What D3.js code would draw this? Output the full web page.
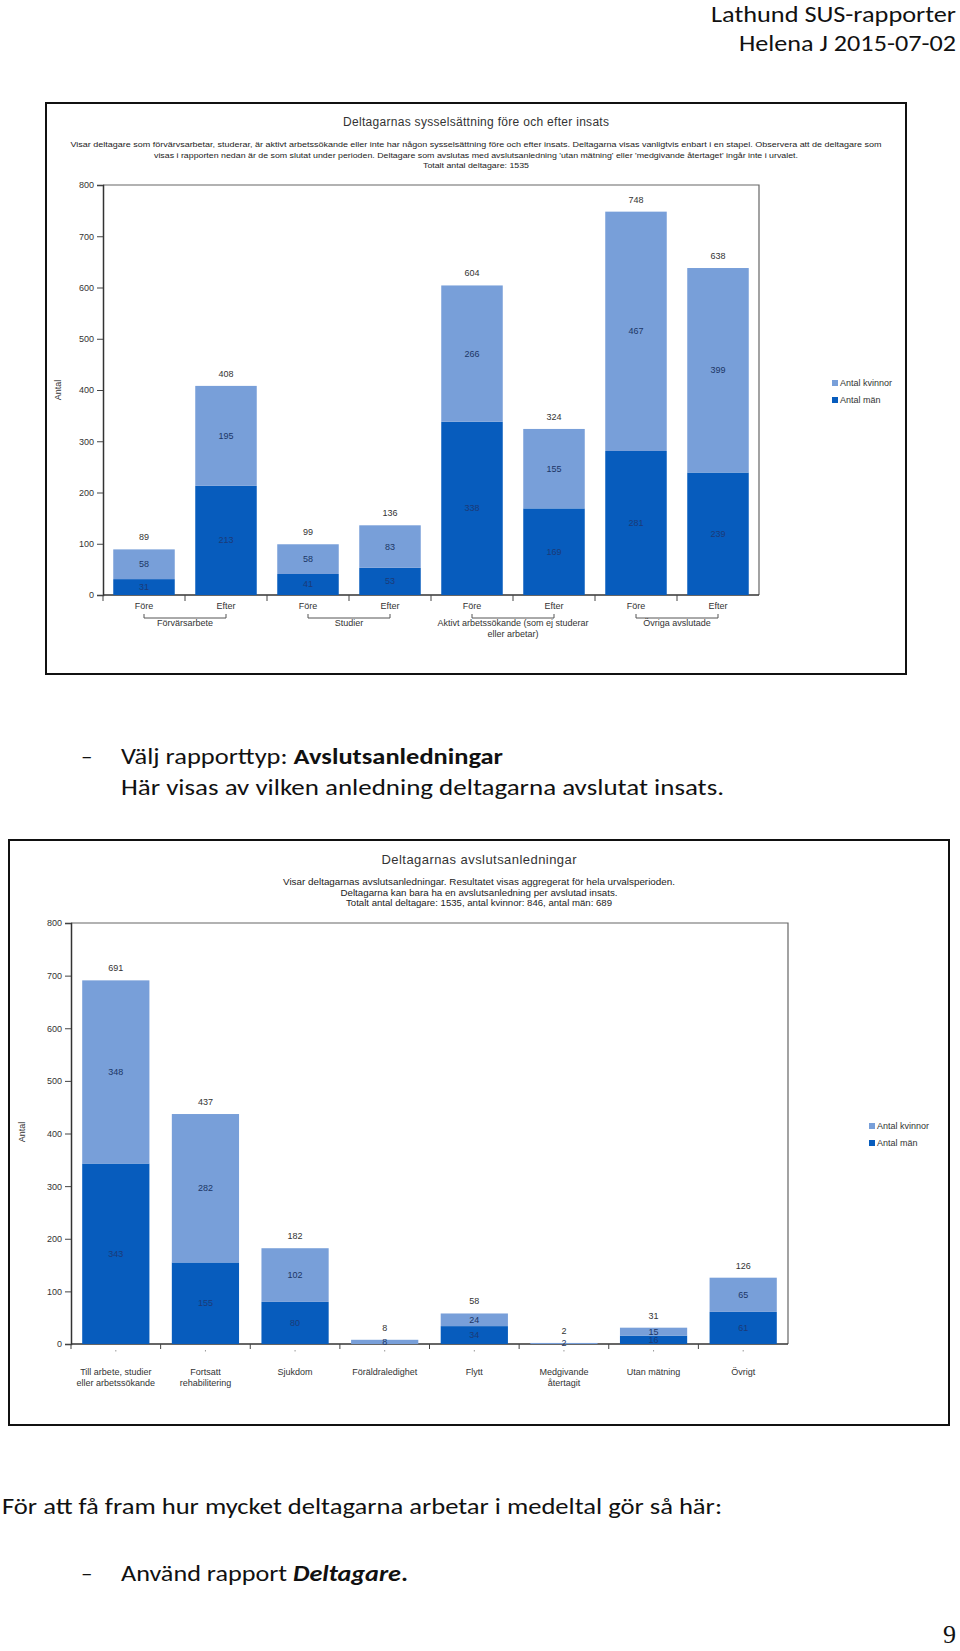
<!DOCTYPE html>
<html><head><meta charset="utf-8">
<script src="https://cdn.jsdelivr.net/npm/d3@7"></script>
<style>body{margin:0;background:#fff}svg{display:block}</style>
</head><body>
<script>
// ---------- data ----------
const categories1 = ["Före","Efter","Före","Efter","Före","Efter","Före","Efter"];
const groups1 = [["Förvärsarbete"],["Studier"],["Aktivt arbetssökande (som ej studerar","eller arbetar)"],["Övriga avslutade"]];
const men1 = [31,213,41,53,338,169,281,239];
const women1 = [58,195,58,83,266,155,467,399];

const categories2 = [["Till arbete, studier","eller arbetssökande"],["Fortsatt","rehabilitering"],["Sjukdom"],["Föräldraledighet"],["Flytt"],["Medgivande","återtagit"],["Utan mätning"],["Övrigt"]];
const men2 = [343,155,80,0,34,0,16,61];
const women2 = [348,282,102,8,24,2,15,65];

const yTicks = [0,100,200,300,400,500,600,700,800];
const legendLabels = ["Antal kvinnor","Antal män"];

// ---------- styles ----------
const LIGHT = "#789fd9", DARK = "#075cbd";
const CF = "'Liberation Sans', Arial, sans-serif";
const DF = "Carlito, Calibri, Lato, 'Open Sans', sans-serif";

const svg = d3.select("body").append("svg").attr("width",960).attr("height",1651);

function txt(g, x, y, s, o={}) {
  const t = g.append("text").attr("x",x).attr("y",y)
    .attr("font-family", o.ff || CF).attr("font-size", o.fs || 9)
    .attr("fill", o.fill || "#222").attr("text-anchor", o.anchor || "middle");
  if (o.central) t.attr("dominant-baseline","central");
  if (o.len) t.attr("textLength", o.len).attr("lengthAdjust", o.adj || "spacingAndGlyphs");
  if (o.weight) t.attr("font-weight", o.weight);
  if (Array.isArray(s)) {
    s.forEach(p => { const ts = t.append("tspan").text(p.t);
      if (p.w) ts.attr("font-weight", p.w); if (p.i) ts.attr("font-style","italic"); });
  } else t.text(s);
  return t;
}

// ---------- document text ----------
txt(svg, 956, 22, "Lathund SUS-rapporter", {ff:DF, fs:22, anchor:"end", len:245, fill:"#111"});
txt(svg, 956, 51, "Helena J 2015-07-02", {ff:DF, fs:22, anchor:"end", len:217, fill:"#111"});

txt(svg, 81, 764, "–", {ff:DF, fs:23, anchor:"start", fill:"#111"});
txt(svg, 121, 764, [{t:"Välj rapporttyp: "},{t:"Avslutsanledningar", w:"bold"}], {ff:DF, fs:23, anchor:"start", len:382, fill:"#111"});
txt(svg, 121, 795, "Här visas av vilken anledning deltagarna avslutat insats.", {ff:DF, fs:23, anchor:"start", len:603, fill:"#111"});
txt(svg, 2, 1514, "För att få fram hur mycket deltagarna arbetar i medeltal gör så här:", {ff:DF, fs:23, anchor:"start", len:720, fill:"#111"});
txt(svg, 81, 1581, "–", {ff:DF, fs:23, anchor:"start", fill:"#111"});
txt(svg, 121, 1581, [{t:"Använd rapport "},{t:"Deltagare", w:"bold", i:true},{t:".", w:"bold"}], {ff:DF, fs:23, anchor:"start", len:287, fill:"#111"});
txt(svg, 956, 1643, "9", {ff:"'Liberation Serif', 'Times New Roman', serif", fs:26, anchor:"end", fill:"#111"});

// ---------- chart drawing ----------
function drawChart(c) {
  const g = svg.append("g");
  g.append("rect").attr("x",c.frame[0]).attr("y",c.frame[1]).attr("width",c.frame[2]-c.frame[0]).attr("height",c.frame[3]-c.frame[1])
    .attr("fill","#fff").attr("stroke","#111").attr("stroke-width",2);
  txt(g, c.cx, c.titleY, c.title, {fs:c.titleFs, fill:"#333", central:true, len:c.titleLen, adj:"spacing"});
  c.sub.forEach((s,i) => txt(g, c.cx, c.subY[i], s[0], {fs:c.subFs, fill:"#222", central:true, len:s[1]}));

  const [L,R,T,B] = c.plot;
  const n = c.men.length;
  const x = d3.scaleBand().domain(d3.range(n)).range([L,R]).paddingInner(0.25).paddingOuter(0.125);
  const y = d3.scaleLinear().domain([0,800]).range([B,T]);

  // plot border (top / right)
  g.append("path").attr("d",`M${L},${T}H${R}V${B}`).attr("fill","none").attr("stroke","#666").attr("stroke-width",1.2);

  // y axis
  const ya = g.append("g").attr("transform",`translate(${L},0)`)
    .call(d3.axisLeft(y).tickValues(yTicks).tickSize(6).tickPadding(3));
  ya.select(".domain").attr("stroke","#333").attr("stroke-width",1.5);
  ya.selectAll(".tick line").attr("stroke","#444");
  ya.selectAll("text").attr("font-family",CF).attr("font-size",9).attr("fill","#333");

  // x axis baseline + boundary ticks
  g.append("line").attr("x1",L).attr("x2",R).attr("y1",B).attr("y2",B).attr("stroke","#333").attr("stroke-width",1.5);
  d3.range(n).forEach(i => {
    const bx = L + i*x.step();
    g.append("line").attr("x1",bx).attr("x2",bx).attr("y1",B).attr("y2",B+c.tickLen).attr("stroke","#444");
  });
  if (c.centerDots) d3.range(n).forEach(i => {
    const cx = x(i)+x.bandwidth()/2;
    g.append("line").attr("x1",cx).attr("x2",cx).attr("y1",B+6).attr("y2",B+7.5).attr("stroke","#999");
  });

  // Y label
  txt(g, 0, 0, "Antal", {fs:9, fill:"#333", central:true}).attr("transform",`translate(${c.antal[0]},${c.antal[1]}) rotate(-90)`);

  // bars
  d3.range(n).forEach(i => {
    const m = c.men[i], w = c.women[i], tot = m+w;
    const bx = x(i), bw = x.bandwidth(), mid = bx+bw/2;
    if (m>0) g.append("rect").attr("x",bx).attr("width",bw).attr("y",y(m)).attr("height",y(0)-y(m)).attr("fill",DARK);
    if (w>0) g.append("rect").attr("x",bx).attr("width",bw).attr("y",y(m+w)).attr("height",y(m)-y(m+w)).attr("fill",LIGHT);
    txt(g, mid, y(tot)-12, String(tot), {fs:9, fill:"#333", central:true});
    if (m>0) txt(g, mid, y(m/2), String(m), {fs:9, fill:"#1b3a78", central:true});
    if (w>0) txt(g, mid, y(m+w/2), String(w), {fs:9, fill:"#1c3666", central:true});
  });

  c.drawLabels(g, x, B);

  // legend
  [LIGHT, DARK].forEach((col,i) => {
    const ly = c.legend[1] + i*c.legend[2];
    g.append("rect").attr("x",c.legend[0]).attr("y",ly-3).attr("width",6).attr("height",6).attr("fill",col);
    txt(g, c.legend[0]+8, ly, legendLabels[i], {fs:9, fill:"#333", anchor:"start", central:true});
  });
}

// Chart 1
drawChart({
  frame:[46,103,906,674], cx:476,
  title:"Deltagarnas sysselsättning före och efter insats", titleY:122, titleFs:12, titleLen:266,
  sub:[["Visar deltagare som förvärvsarbetar, studerar, är aktivt arbetssökande eller inte har någon sysselsättning före och efter insats. Deltagarna visas vanligtvis enbart i en stapel. Observera att de deltagare som",811],
       ["visas i rapporten nedan är de som slutat under perioden. Deltagare som avslutas med avslutsanledning 'utan mätning' eller 'medgivande återtaget' ingår inte i urvalet.",644],
       ["Totalt antal deltagare: 1535",106]],
  subY:[144,155,165], subFs:8,
  plot:[103,759,185,595], men:men1, women:women1, tickLen:6, centerDots:false,
  antal:[58,390], legend:[832,383,17],
  drawLabels:(g,x,B) => {
    categories1.forEach((s,i) => txt(g, x(i)+x.bandwidth()/2, B+11, s, {fs:9, fill:"#333", central:true}));
    groups1.forEach((lines,j) => {
      const a = x(2*j)+x.bandwidth()/2, b = x(2*j+1)+x.bandwidth()/2;
      g.append("path").attr("d",`M${a},${B+19}V${B+23}H${b}V${B+19}`).attr("fill","none").attr("stroke","#555");
      lines.forEach((l,k) => txt(g, (a+b)/2, B+28+k*11, l, {fs:9, fill:"#333", central:true}));
    });
  }
});

// Chart 2
drawChart({
  frame:[9,840,949,1425], cx:479,
  title:"Deltagarnas avslutsanledningar", titleY:859, titleFs:13, titleLen:195,
  sub:[["Visar deltagarnas avslutsanledningar. Resultatet visas aggregerat för hela urvalsperioden.",392],
       ["Deltagarna kan bara ha en avslutsanledning per avslutad insats.",277],
       ["Totalt antal deltagare: 1535, antal kvinnor: 846, antal män: 689",266]],
  subY:[882,893,903], subFs:9,
  plot:[71,788,923,1344], men:men2, women:women2, tickLen:5, centerDots:true,
  antal:[22,1132], legend:[869,1126,17],
  drawLabels:(g,x,B) => {
    categories2.forEach((lines,i) => lines.forEach((l,k) =>
      txt(g, x(i)+x.bandwidth()/2, B+28+k*11, l, {fs:9, fill:"#333", central:true})));
  }
});
</script>
</body></html>
